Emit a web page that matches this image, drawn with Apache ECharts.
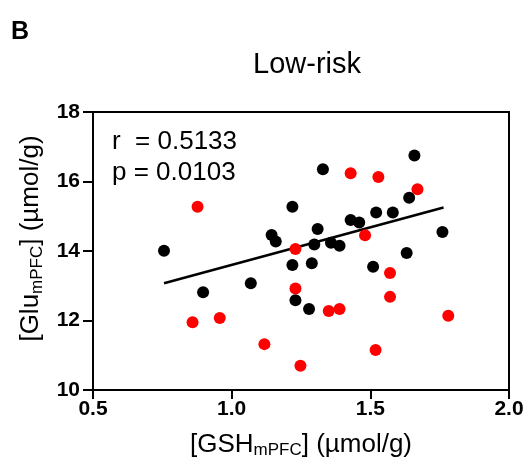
<!DOCTYPE html>
<html>
<head>
<meta charset="utf-8">
<script src="https://cdn.jsdelivr.net/npm/echarts@6/dist/echarts.min.js"></script>
<style>html,body{margin:0;padding:0;background:#fff}#c{width:530px;height:468px}</style>
</head>
<body>
<div id="c"></div>
<script>
// Black group (GSH, Glu)
const blackX = [0.756, 0.897, 1.069, 1.144, 1.159, 1.219, 1.219, 1.230, 1.279, 1.289, 1.298, 1.310, 1.329, 1.358, 1.389, 1.429, 1.460, 1.510, 1.521, 1.581, 1.631, 1.640, 1.659, 1.760];
const blackY = [14.01, 12.81, 13.07, 14.46, 14.27, 15.27, 13.60, 12.58, 12.33, 13.65, 14.19, 14.63, 16.35, 14.24, 14.15, 14.89, 14.82, 13.55, 15.11, 15.11, 13.94, 15.53, 16.75, 14.55];
// Red group
const redX = [0.859, 0.877, 0.957, 1.118, 1.230, 1.230, 1.248, 1.350, 1.389, 1.429, 1.481, 1.519, 1.529, 1.571, 1.571, 1.670, 1.781];
const redY = [11.95, 15.27, 12.07, 11.32, 14.06, 12.92, 10.70, 12.27, 12.33, 16.24, 14.45, 11.15, 16.13, 13.37, 12.68, 15.78, 12.14];
// Regression line endpoints
const fitX = [0.756, 1.764];
const fitY = [13.07, 15.25];
// Axis ticks
const xTicks = [0.5, 1.0, 1.5, 2.0];
const yTicks = [10, 12, 14, 16, 18];
const statsLines = ['r  = 0.5133', 'p = 0.0103'];

const FONT = "'Liberation Sans', Arial, sans-serif";
const zip = (a, b) => a.map((v, i) => [v, b[i]]);

const chart = echarts.init(document.getElementById('c'), null, {renderer: 'canvas'});
chart.setOption({
  animation: false,
  backgroundColor: '#fff',
  title: {
    text: 'Low-risk', left: 302, top: 45, textAlign: 'center',
    textStyle: {fontFamily: FONT, fontSize: 29, fontWeight: 'normal', color: '#000'}
  },
  graphic: [
    {type: 'text', left: 11, top: 20, style: {text: 'B', fontFamily: FONT, fontSize: 25, fontWeight: 'bold', fill: '#000'}},
    {type: 'text', left: 112, top: 129, style: {text: statsLines[0], fontFamily: FONT, fontSize: 26, fill: '#000'}},
    {type: 'text', left: 112, top: 160, style: {text: statsLines[1], fontFamily: FONT, fontSize: 26, fill: '#000'}}
  ],
  grid: {left: 93, right: 21, top: 112, bottom: 78, show: true, borderColor: '#000', borderWidth: 2},
  xAxis: {
    type: 'value', min: xTicks[0], max: xTicks[xTicks.length - 1], interval: 0.5,
    splitLine: {show: false},
    axisLine: {lineStyle: {color: '#000', width: 2}},
    axisTick: {length: 9, lineStyle: {color: '#000', width: 2}},
    axisLabel: {margin: 9, color: '#000', fontFamily: FONT, fontSize: 21, fontWeight: 'bold', formatter: v => v.toFixed(1)},
    name: '{a|[GSH}{s|mPFC}{a|] (µmol/g)}', nameLocation: 'middle', nameGap: 40,
    nameTextStyle: {rich: {
      a: {fontFamily: FONT, fontSize: 26, color: '#000'},
      s: {fontFamily: FONT, fontSize: 17, color: '#000', padding: [12, 0, 0, 0]}
    }}
  },
  yAxis: {
    type: 'value', min: yTicks[0], max: yTicks[yTicks.length - 1], interval: 2,
    splitLine: {show: false},
    axisLine: {show: true, lineStyle: {color: '#000', width: 2}},
    axisTick: {show: true, length: 10, lineStyle: {color: '#000', width: 2}},
    axisLabel: {margin: 13, color: '#000', fontFamily: FONT, fontSize: 21, fontWeight: 'bold'},
    name: '{a|[Glu}{s|mPFC}{a|] (µmol/g)}', nameLocation: 'middle', nameGap: 35, nameRotate: 90,
    nameTextStyle: {padding: [0, 0, 0, 25], rich: {
      a: {fontFamily: FONT, fontSize: 26, color: '#000'},
      s: {fontFamily: FONT, fontSize: 17, color: '#000', padding: [12, 0, 0, 0]}
    }}
  },
  series: [
    {type: 'line', data: zip(fitX, fitY), symbol: 'none', lineStyle: {color: '#000', width: 2.5}, z: 1},
    {type: 'scatter', data: zip(blackX, blackY), symbolSize: 12, itemStyle: {color: '#000', opacity: 1}, z: 2},
    {type: 'scatter', data: zip(redX, redY), symbolSize: 12, itemStyle: {color: '#ff0000', opacity: 1}, z: 3}
  ]
});
</script>
</body>
</html>
